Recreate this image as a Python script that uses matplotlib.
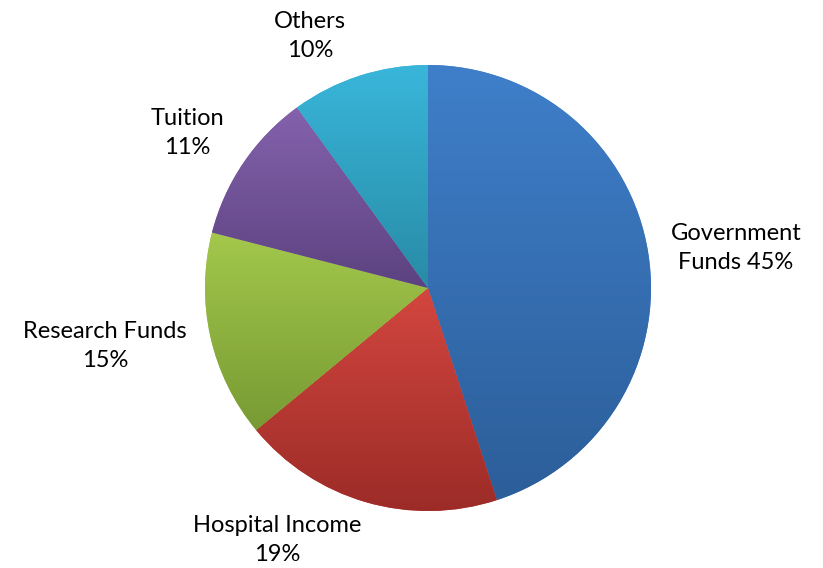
import numpy as np
import matplotlib
matplotlib.use("Agg")
import matplotlib.pyplot as plt
from matplotlib.colors import LinearSegmentedColormap

# revenue sources, clockwise from 12 o'clock
sources = ["Government\nFunds", "Hospital Income", "Research Funds", "Tuition", "Others"]
shares = [45, 19, 15, 11, 10]
label_sep = [" ", "\n", "\n", "\n", "\n"]

# light (top) / dark (bottom) shade per slice
top_colors = ["#3f7fca", "#d3463f", "#a3c84b", "#8462ac", "#39b6da"]
bottom_colors = ["#2c5e99", "#9b2b27", "#789a34", "#5c4280", "#288ba6"]

W, H = 823, 568
fig = plt.figure(figsize=(W / 100, H / 100), dpi=100)
ax = fig.add_axes([0, 0, 1, 1])
ax.set_xlim(0, W)
ax.set_ylim(0, H)
ax.set_aspect("equal")
ax.axis("off")

wedges, _ = ax.pie(shares, startangle=90, counterclock=False,
                   center=(428, H - 288), radius=223,
                   wedgeprops=dict(linewidth=0))

grad = np.linspace(1, 0, 256).reshape(-1, 1)
for w, c1, c2 in zip(wedges, top_colors, bottom_colors):
    verts = w.get_path().vertices
    x0, y0 = verts.min(axis=0)
    x1, y1 = verts.max(axis=0)
    cmap = LinearSegmentedColormap.from_list("g", [c2, c1])
    im = ax.imshow(grad, cmap=cmap, extent=(x0, x1, y0, y1), origin="upper",
                   aspect="auto", interpolation="bilinear", zorder=2)
    im.set_clip_path(w)
    w.set_facecolor(c1)

ax.set_xlim(0, W)
ax.set_ylim(0, H)

# label anchor points (pixel coords from top-left)
label_pos = [(736, 248), (277, 540), (105, 346), (187, 133), (310, 36)]
for name, val, sep, (px, py) in zip(sources, shares, label_sep, label_pos):
    ax.text(px, H - py, f"{name}{sep}{val}%", ha="center", va="center",
            fontsize=17, family="Lato", linespacing=1.45, zorder=3)

fig.savefig("out.png", dpi=100, facecolor="white")
